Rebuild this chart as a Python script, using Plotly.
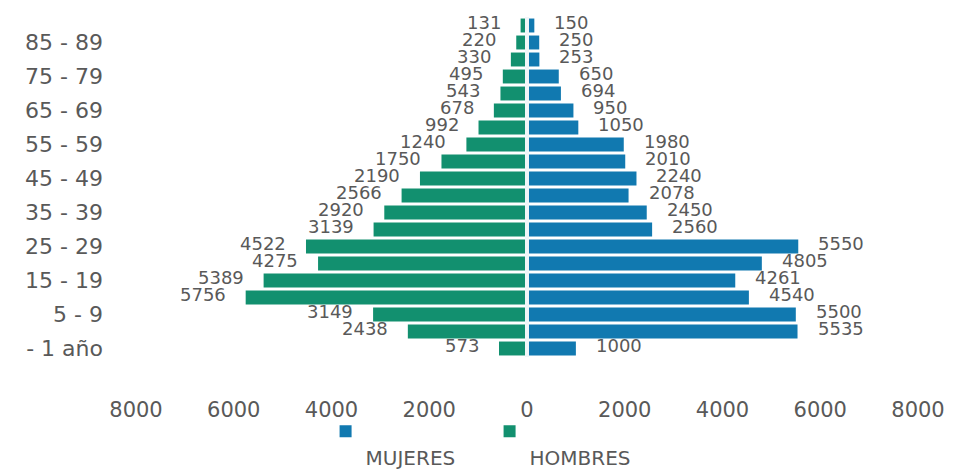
import plotly.graph_objects as go

# Age groups, bottom to top
age_groups = ["- 1 año", "1 - 4", "5 - 9", "10 - 14", "15 - 19", "20 - 24", "25 - 29",
              "30 - 34", "35 - 39", "40 - 44", "45 - 49", "50 - 54", "55 - 59",
              "60 - 64", "65 - 69", "70 - 74", "75 - 79", "80 - 84", "85 - 89", "90 y más"]
hombres = [573, 2438, 3149, 5756, 5389, 4275, 4522, 3139, 2920, 2566, 2190, 1750, 1240,
           992, 678, 543, 495, 330, 220, 131]
mujeres = [1000, 5535, 5500, 4540, 4261, 4805, 5550, 2560, 2450, 2078, 2240, 2010, 1980,
           1050, 950, 694, 650, 253, 250, 150]
shown_age_labels = ["- 1 año", "5 - 9", "15 - 19", "25 - 29", "35 - 39", "45 - 49",
                    "55 - 59", "65 - 69", "75 - 79", "85 - 89"]
x_ticks = [-8000, -6000, -4000, -2000, 0, 2000, 4000, 6000, 8000]

GREEN = "#12906f"
BLUE = "#1179b0"
TEXT = "#595959"
FONT = "DejaVu Sans"

fig = go.Figure()
fig.add_trace(go.Bar(
    y=age_groups, x=mujeres, orientation="h", name="\u200b<br>MUJERES",
    marker=dict(color=BLUE, line=dict(width=0)), hoverinfo="x+y",
))
fig.add_trace(go.Bar(
    y=age_groups, x=[-v for v in hombres], orientation="h", name="\u200b<br>HOMBRES",
    marker=dict(color=GREEN, line=dict(width=0)), hoverinfo="x+y",
))

annotations = []
for cat, v in zip(age_groups, hombres):
    annotations.append(dict(x=-v, y=cat, text=str(v), showarrow=False, xanchor="right",
                            xshift=-18, yshift=3, font=dict(family=FONT, size=18, color=TEXT)))
for cat, v in zip(age_groups, mujeres):
    annotations.append(dict(x=v, y=cat, text=str(v), showarrow=False, xanchor="left",
                            xshift=18, yshift=3, font=dict(family=FONT, size=18, color=TEXT)))

fig.update_layout(
    width=948, height=462,
    margin=dict(l=128, r=38, t=9, b=113, autoexpand=False),
    paper_bgcolor="white", plot_bgcolor="white",
    barmode="relative", bargap=0.18,
    font=dict(family=FONT, color=TEXT),
    annotations=annotations,
    shapes=[dict(type="line", xref="x", yref="paper", x0=0, x1=0, y0=0, y1=1,
                 line=dict(color="#f1f6f8", width=4), layer="above")],
    showlegend=True,
    legend=dict(orientation="h", xref="container", yref="container",
                x=0.335, xanchor="left", y=0.126, yanchor="top",
                valign="top", font=dict(family=FONT, size=20, color=TEXT),
                traceorder="normal", entrywidth=119, entrywidthmode="pixels",
                bgcolor="rgba(0,0,0,0)"),
    xaxis=dict(range=[-8000, 8000], tickvals=x_ticks,
               ticktext=[str(abs(t)) for t in x_ticks],
               showgrid=False, zeroline=False, showline=False, ticks="",
               tickfont=dict(family=FONT, size=21, color=TEXT),
               ticklabelstandoff=38, automargin=False, fixedrange=True),
    yaxis=dict(type="category", categoryorder="array", categoryarray=age_groups,
               range=[-0.5, len(age_groups) - 0.5],
               tickvals=shown_age_labels, ticktext=shown_age_labels,
               showgrid=False, zeroline=False, showline=False, ticks="",
               tickfont=dict(family=FONT, size=22, color=TEXT),
               ticklabelstandoff=32, automargin=False, fixedrange=True),
)

fig.write_html("out.html")
